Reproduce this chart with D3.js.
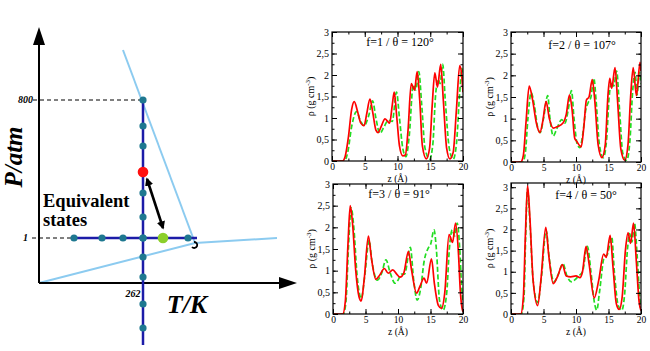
<!DOCTYPE html>
<html>
<head>
<meta charset="utf-8">
<script src="https://cdn.jsdelivr.net/npm/d3@7"></script>
<style>
  body { margin: 0; background: #fff; }
  svg { display: block; font-family: "Liberation Serif", "Times New Roman", Times, "DejaVu Serif", serif; }
  svg text { font-family: "Liberation Serif", "Times New Roman", Times, "DejaVu Serif", serif; }
</style>
</head>
<body>
<svg id="fig" width="650" height="351"></svg>
<script>
// ---------- data ----------
// schematic phase diagram (arbitrary T/P units)
var isobarDots = [35, 63, 84, 104, 124, 149];        // T positions on P = 1 atm
var isothermDots = [183, 157, 137, 111, 90, 66, 45, 26, 6, -21, -45]; // P positions on T = 262 K
var redState = [104, 111];
var greenState = [124, 45];
var upperBoundary = [[84, 233], [156, 40]];
var lowerBoundary = [[0, 0], [156, 40], [238, 45]];

var panelTitles = ["f=1 / \u03b8 = 120\u00b0", "f=2 / \u03b8 = 107\u00b0", "f=3 / \u03b8 = 91\u00b0", "f=4 / \u03b8 = 50\u00b0"];
var yTickLabels = ["0", "0,5", "1", "1,5", "2", "2,5", "3"];
var xTickValues = [0, 5, 10, 15, 20];

var f1Red = [[0,0],[1.6,0],[2.0,0.1],[2.5,0.55],[3.0,1.2],[3.4,1.38],[3.9,1.15],[4.4,0.88],[4.9,0.82],[5.3,1.1],[5.8,1.44],[6.2,1.15],[6.7,0.72],[7.05,0.66],[7.5,0.8],[8.1,0.98],[8.8,0.88],[9.2,1.3],[9.5,1.6],[9.9,1.0],[10.3,0.35],[10.8,0.12],[11.2,0.14],[11.6,0.7],[12.1,1.8],[12.6,1.65],[13.0,2.08],[13.4,1.4],[13.8,0.35],[14.4,0.05],[14.9,0.3],[15.3,1.3],[15.7,2.05],[16.1,1.72],[16.6,2.25],[17.0,1.4],[17.5,0.3],[18.0,0.05],[18.5,0.2],[19.0,1.2],[19.5,2.22],[19.8,2.0],[20,1.6]];
var f1Green = [[0,0],[1.9,0],[2.4,0.2],[3.0,0.8],[3.75,1.15],[4.3,0.95],[4.9,0.82],[5.6,1.05],[6.2,1.4],[6.7,1.0],[7.3,0.64],[7.9,0.78],[8.6,0.95],[9.2,0.92],[9.85,1.6],[10.3,1.0],[10.8,0.3],[11.3,0.1],[11.8,0.6],[12.4,1.77],[12.8,1.65],[13.25,2.08],[13.7,1.3],[14.2,0.3],[14.9,0.04],[15.4,0.4],[15.8,1.5],[16.2,1.9],[16.5,1.8],[16.9,2.25],[17.3,1.4],[17.9,0.3],[18.5,0.04],[19.0,0.4],[19.5,1.6],[19.85,2.15],[20,1.9]];

var f2Red = [[0,0],[1.5,0],[1.9,0.15],[2.3,0.9],[2.8,1.75],[3.3,1.45],[3.9,0.9],[4.45,0.68],[4.9,0.95],[5.4,1.4],[5.9,1.0],[6.5,0.78],[7.2,0.82],[8.0,0.9],[8.5,1.1],[9.0,1.55],[9.4,1.2],[9.8,0.55],[10.1,0.48],[10.8,0.35],[11.2,0.8],[11.6,1.43],[12.0,1.5],[12.5,1.9],[12.9,1.4],[13.4,0.4],[14.0,0.1],[14.5,0.4],[14.9,1.5],[15.2,1.93],[15.5,1.7],[16.0,2.18],[16.4,1.4],[16.9,0.3],[17.5,0.04],[18.0,0.4],[18.4,1.5],[18.8,2.18],[19.3,1.53],[19.85,2.3],[20,2.1]];
var f2Green = [[0,0],[1.8,0],[2.2,0.2],[2.6,1.0],[3.1,1.6],[3.6,1.3],[4.1,0.8],[4.5,0.68],[5.0,1.0],[5.65,1.53],[6.0,1.0],[6.5,0.6],[7.0,0.75],[7.8,0.98],[8.3,0.9],[8.8,1.2],[9.3,1.65],[9.7,1.0],[10.2,0.4],[10.6,0.33],[11.0,0.6],[11.5,1.2],[11.9,1.38],[12.3,1.5],[12.75,1.93],[13.1,1.4],[13.6,0.4],[14.2,0.1],[14.7,0.5],[15.1,1.5],[15.5,1.85],[15.8,1.75],[16.25,2.1],[16.7,1.2],[17.2,0.2],[17.8,0.04],[18.3,0.5],[18.7,1.6],[19.1,2.07],[19.4,1.55],[19.75,2.07],[20,1.8]];

var f3Red = [[0,0],[1.5,0],[1.9,0.3],[2.3,1.6],[2.65,2.5],[3.0,2.1],[3.5,1.0],[4.0,0.4],[4.35,0.3],[4.8,0.8],[5.45,1.8],[5.9,1.3],[6.6,0.8],[7.2,0.9],[7.9,1.05],[8.5,0.94],[9.2,1.02],[9.8,0.92],[10.3,0.85],[10.9,0.95],[11.6,1.44],[12.1,1.0],[12.85,0.48],[13.4,0.65],[14.0,0.83],[14.4,0.71],[15.15,1.27],[15.6,0.7],[16.2,0.2],[16.7,0.13],[17.2,0.5],[17.85,1.83],[18.4,1.65],[18.85,2.1],[19.3,1.4],[19.6,0.5],[19.9,0.1],[20,0.05]];
var f3Green = [[0,0],[1.6,0],[2.0,0.3],[2.4,1.6],[2.8,2.45],[3.2,2.0],[3.7,0.9],[4.35,0.36],[4.9,0.9],[5.55,1.7],[6.0,1.2],[6.85,0.78],[7.5,0.95],[8.15,1.25],[8.8,0.95],[9.55,0.71],[10.0,0.78],[10.55,0.92],[11.0,0.92],[11.9,1.54],[12.4,0.8],[12.95,0.32],[13.5,0.6],[14.0,1.2],[14.65,1.52],[15.0,1.6],[15.55,1.94],[15.9,1.5],[16.4,0.3],[16.95,0.09],[17.5,0.5],[17.9,1.5],[18.35,1.94],[18.7,1.8],[19.1,2.1],[19.5,1.5],[19.8,0.6],[20,0.3]];

var f4Red = [[0,0],[1.5,0],[1.9,0.4],[2.2,1.8],[2.55,3.04],[2.9,2.3],[3.4,0.8],[4.1,0.2],[4.6,0.8],[5.35,2.05],[5.8,1.4],[6.5,0.72],[7.2,0.9],[7.9,1.17],[8.5,0.9],[9.2,0.88],[10.0,0.9],[10.6,0.86],[11.0,1.0],[11.55,1.6],[12.0,1.2],[12.8,0.38],[13.5,0.8],[14.25,1.42],[14.65,1.34],[15.25,1.86],[15.7,1.1],[16.2,0.25],[16.65,0.11],[17.1,0.4],[17.6,1.5],[18.0,1.92],[18.4,1.67],[18.85,2.15],[19.3,1.2],[19.7,0.3],[20,0.08]];
var f4Green = [[0,0],[1.6,0],[2.0,0.4],[2.25,1.8],[2.55,2.96],[2.9,2.2],[3.4,0.8],[4.1,0.27],[4.7,0.9],[5.4,1.98],[5.9,1.3],[6.6,0.76],[7.3,0.95],[8.0,1.19],[8.6,0.9],[9.35,0.76],[9.9,0.82],[10.4,0.9],[11.0,1.0],[11.75,1.6],[12.3,1.0],[12.8,0.3],[13.2,0.09],[13.6,0.5],[14.35,1.35],[14.8,1.4],[15.5,1.82],[15.9,1.0],[16.5,0.2],[17.05,0.09],[17.5,0.5],[17.9,1.5],[18.25,1.9],[18.6,1.7],[19.0,2.15],[19.4,1.4],[19.8,0.4],[20,0.1]];

var svg = d3.select("#fig");
var serif = "'Liberation Serif', 'Times New Roman', Times, 'DejaVu Serif', serif";

// ---------- left: schematic P-T diagram ----------
var sx = d3.scaleLinear().domain([0, 250]).range([39, 289]);
var sy = d3.scaleLinear().domain([0, 255]).range([283, 28]);
var sline = d3.line().x(d => sx(d[0])).y(d => sy(d[1]));

var left = svg.append("g").attr("font-family", serif);

left.append("path").attr("d", sline(upperBoundary))
    .attr("fill", "none").attr("stroke", "#8ccbf0").attr("stroke-width", 2);
left.append("path").attr("d", sline(lowerBoundary))
    .attr("fill", "none").attr("stroke", "#8ccbf0").attr("stroke-width", 2);

// dashed guides
left.append("path").attr("d", sline([[-6, 183], [104, 183]]))
    .attr("stroke", "#000").attr("stroke-width", 1).attr("stroke-dasharray", "4,3");
left.append("path").attr("d", sline([[-7, 45], [32, 45]]))
    .attr("stroke", "#000").attr("stroke-width", 1).attr("stroke-dasharray", "4,3");

// axes with arrows
left.append("path").attr("d", sline([[0, 0], [0, 240]])).attr("stroke", "#000").attr("stroke-width", 2);
left.append("path").attr("d", sline([[0, 0], [244, 0]])).attr("stroke", "#000").attr("stroke-width", 2);
left.append("path")
    .attr("d", "M" + sx(0) + "," + sy(256) + "L" + (sx(0) - 6) + "," + sy(238) + "L" + (sx(0) + 6) + "," + sy(238) + "Z")
    .attr("fill", "#000");
left.append("path")
    .attr("d", "M" + sx(258) + "," + sy(0) + "L" + sx(240) + "," + (sy(0) - 6) + "L" + sx(240) + "," + (sy(0) + 6) + "Z")
    .attr("fill", "#000");

// isotherm and isobar
left.append("path").attr("d", sline([[104, 183], [104, -62]]))
    .attr("stroke", "#1c1ca8").attr("stroke-width", 2.5);
left.append("path").attr("d", sline([[32, 45], [158, 45]]))
    .attr("stroke", "#1c1ca8").attr("stroke-width", 2.5);

left.selectAll("circle.iso")
    .data(isothermDots.map(p => [104, p]).concat(isobarDots.map(t => [t, 45])))
    .enter().append("circle")
    .attr("class", "iso")
    .attr("cx", d => sx(d[0])).attr("cy", d => sy(d[1]))
    .attr("r", 3.6).attr("fill", "#1e7890");

left.append("circle").attr("cx", sx(redState[0])).attr("cy", sy(redState[1]))
    .attr("r", 5.3).attr("fill", "#ff1010");
left.append("circle").attr("cx", sx(greenState[0])).attr("cy", sy(greenState[1]))
    .attr("r", 5.3).attr("fill", "#8ccf2a");

// small mark at the triple point
left.append("path")
    .attr("d", "M" + (sx(156) - 1) + "," + (sy(40) - 1) + "a3,3 0 1,1 -2,5")
    .attr("fill", "none").attr("stroke", "#000").attr("stroke-width", 1.8);

// double arrow between equivalent states
var defs = svg.append("defs");
defs.append("marker").attr("id", "ah").attr("viewBox", "0 0 10 10")
    .attr("refX", 8).attr("refY", 5).attr("markerWidth", 3.2).attr("markerHeight", 3.2)
    .attr("orient", "auto-start-reverse")
    .append("path").attr("d", "M0,0L10,5L0,10Z").attr("fill", "#000");
left.append("path").attr("d", sline([[108, 104], [124, 55]]))
    .attr("stroke", "#000").attr("stroke-width", 2.6)
    .attr("marker-start", "url(#ah)").attr("marker-end", "url(#ah)");

// labels
left.append("text").attr("x", 33).attr("y", sy(183) + 3).attr("text-anchor", "end")
    .attr("font-size", 10).attr("font-style", "italic").attr("font-weight", "bold").text("800");
left.append("text").attr("x", 28).attr("y", sy(45) + 3).attr("text-anchor", "end")
    .attr("font-size", 10).attr("font-style", "italic").attr("font-weight", "bold").text("1");
left.append("text").attr("x", sx(104) - 10).attr("y", 297).attr("text-anchor", "middle")
    .attr("font-size", 10).attr("font-style", "italic").attr("font-weight", "bold").text("262");
left.append("text").attr("transform", "translate(22,157) rotate(-90)").attr("text-anchor", "middle")
    .attr("font-size", 25).attr("font-style", "italic").attr("font-weight", "bold").text("P/atm");
left.append("text").attr("x", 187).attr("y", 313).attr("text-anchor", "middle")
    .attr("font-size", 26).attr("font-style", "italic").attr("font-weight", "bold").text("T/K");
left.append("text").attr("x", 43).attr("y", 207)
    .attr("font-size", 18.5).attr("font-weight", "bold").text("Equivalent");
left.append("text").attr("x", 43).attr("y", 226)
    .attr("font-size", 18.5).attr("font-weight", "bold").text("states");

// ---------- right: density profiles ----------
var panels = [
  {x: 332, y: 32, w: 131, h: 129, ymax: 3, red: f1Red, green: f1Green, title: panelTitles[0], tx: 400, ty: 46},
  {x: 511, y: 32, w: 130, h: 130, ymax: 3, red: f2Red, green: f2Green, title: panelTitles[1], tx: 582, ty: 49},
  {x: 333, y: 184, w: 130, h: 130, ymax: 3, red: f3Red, green: f3Green, title: panelTitles[2], tx: 399, ty: 198},
  {x: 511, y: 183, w: 130, h: 131, ymax: 3.1, red: f4Red, green: f4Green, title: panelTitles[3], tx: 586, ty: 199}
];

var yTickValues = yTickLabels.map((s, i) => i * 0.5);

panels.forEach(function(p) {
  var g = svg.append("g").attr("transform", "translate(" + p.x + "," + p.y + ")");
  var x = d3.scaleLinear().domain([0, 20]).range([0, p.w]);
  var y = d3.scaleLinear().domain([0, p.ymax]).range([p.h, 0]);

  var clipId = "clip" + p.x + "_" + p.y;
  g.append("clipPath").attr("id", clipId)
    .append("rect").attr("width", p.w).attr("height", p.h);

  var line = d3.line().x(d => x(d[0])).y(d => y(d[1])).curve(d3.curveMonotoneX);

  var plot = g.append("g").attr("clip-path", "url(#" + clipId + ")");
  plot.append("path").attr("d", line(p.green))
    .attr("fill", "none").attr("stroke", "#22dd22").attr("stroke-width", 1.7)
    .attr("stroke-dasharray", "5,2.5");
  plot.append("path").attr("d", line(p.red))
    .attr("fill", "none").attr("stroke", "#ff0000").attr("stroke-width", 1.7);

  // minor ticks
  var minorX = d3.range(0, 20.01, 2.5);
  var minorY = d3.range(0, p.ymax + 0.001, 0.25);
  g.append("g").attr("transform", "translate(0," + p.h + ")")
    .call(d3.axisBottom(x).tickValues(minorX).tickSize(-2.5).tickFormat(""));
  g.append("g").call(d3.axisTop(x).tickValues(minorX).tickSize(-2.5).tickFormat(""));
  g.append("g").call(d3.axisLeft(y).tickValues(minorY).tickSize(-2.5).tickFormat(""));
  g.append("g").attr("transform", "translate(" + p.w + ",0)")
    .call(d3.axisRight(y).tickValues(minorY).tickSize(-2.5).tickFormat(""));

  // major ticks with labels
  g.append("g").attr("class", "ax xa").attr("transform", "translate(0," + p.h + ")")
    .call(d3.axisBottom(x).tickValues(xTickValues).tickSize(-5).tickPadding(2).tickFormat(d3.format("d")));
  g.append("g").attr("class", "ax")
    .call(d3.axisLeft(y).tickValues(yTickValues).tickSize(-5).tickPadding(3)
      .tickFormat((d, i) => yTickLabels[i]));
  g.append("g").call(d3.axisTop(x).tickValues(xTickValues).tickSize(-5).tickFormat(""));
  g.append("g").attr("transform", "translate(" + p.w + ",0)")
    .call(d3.axisRight(y).tickValues(yTickValues).tickSize(-5).tickFormat(""));

  g.selectAll(".domain").remove();
  g.selectAll(".tick line").attr("stroke", "#000");
  g.selectAll(".ax text").attr("font-family", serif).attr("font-size", 10).attr("fill", "#000");
  g.selectAll(".xa text").attr("font-size", 9.5);

  g.append("rect").attr("width", p.w).attr("height", p.h)
    .attr("fill", "none").attr("stroke", "#000").attr("stroke-width", 1.2);

  svg.append("text").attr("x", p.tx).attr("y", p.ty).attr("text-anchor", "middle")
    .attr("font-family", serif).attr("font-size", 12).text(p.title);

  // axis titles
  var yl = svg.append("text")
    .attr("transform", "translate(" + (p.x - 18) + "," + (p.y + p.h / 2) + ") rotate(-90)")
    .attr("text-anchor", "middle").attr("font-family", serif).attr("font-size", 10);
  yl.append("tspan").text("\u03c1 (g cm");
  yl.append("tspan").attr("dy", -4).attr("font-size", 7).text("-3");
  yl.append("tspan").attr("dy", 4).text(")");

  svg.append("text").attr("x", p.x + p.w / 2).attr("y", p.y + p.h + 20.5)
    .attr("text-anchor", "middle").attr("font-family", serif).attr("font-size", 9.5).text("z (\u00c5)");
});
</script>
</body>
</html>
